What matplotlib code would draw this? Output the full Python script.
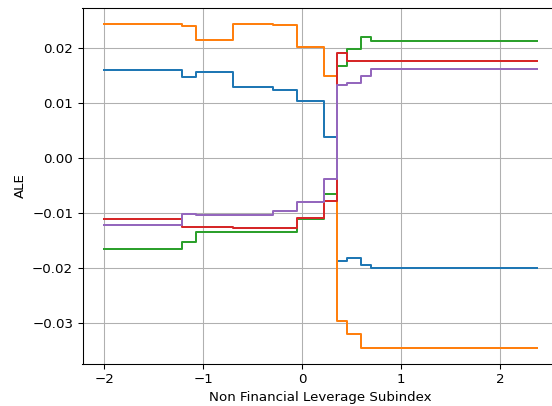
import numpy as np
import matplotlib
matplotlib.use("Agg")
import matplotlib.pyplot as plt

# bin edges along the feature axis
edges = [-2.0, -1.21, -1.07, -0.70, -0.29, -0.05, 0.22, 0.35, 0.45, 0.59, 0.70, 2.37]

# ALE values per bin, one list per class
ale_c0 = [0.0160, 0.0146, 0.01564, 0.01291, 0.01230, 0.0102, 0.00382, -0.01873, -0.01824, -0.01945, -0.02012]
ale_c1 = [0.02424, 0.02387, 0.02145, 0.02424, 0.02405, 0.02013, 0.01491, -0.0297, -0.03206, -0.03448, -0.03448]
ale_c2 = [-0.0166, -0.01527, -0.01345, -0.01345, -0.01345, -0.01115, -0.0066, 0.0166, 0.01964, 0.02188, 0.02127]
ale_c3 = [-0.01109, -0.0126, -0.0126, -0.01285, -0.01285, -0.0110, -0.00782, 0.01897, 0.01757, 0.01757, 0.01757]
ale_c4 = [-0.01224, -0.01018, -0.01048, -0.01048, -0.0097, -0.0080, -0.00388, 0.01321, 0.01352, 0.01485, 0.01612]

dpi = 96
fig = plt.figure(figsize=(552 / dpi, 406 / dpi), dpi=dpi)
ax = fig.add_axes([82.5 / 552, 1 - 363.7 / 406, 476 / 552, 355.7 / 406])

for vals in [ale_c0, ale_c1, ale_c2, ale_c3, ale_c4]:
    ax.step(edges, vals + [vals[-1]], where='post')

ax.set_xlabel('Non Financial Leverage Subindex')
ax.set_ylabel('ALE')
ax.grid(True)

fig.savefig('out.png', dpi=dpi)
